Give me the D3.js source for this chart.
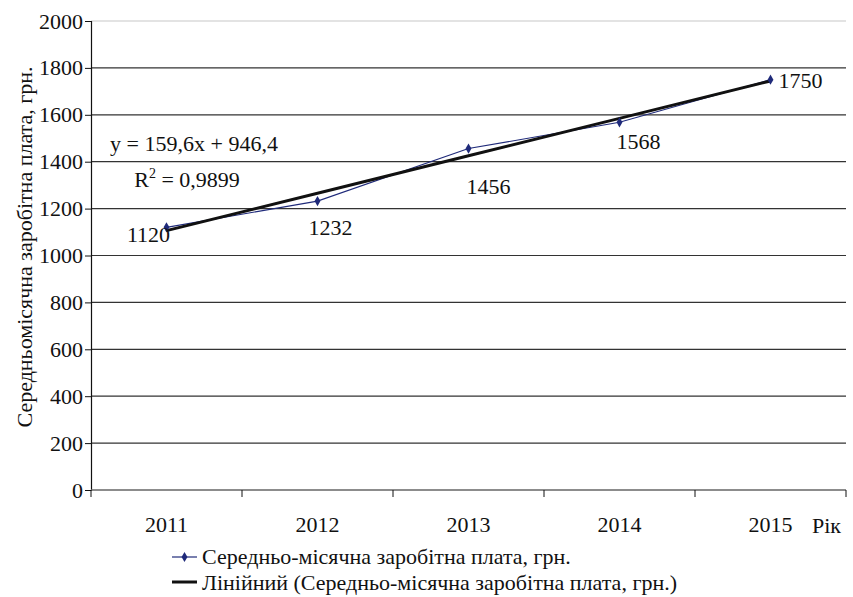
<!doctype html>
<html>
<head>
<meta charset="utf-8">
<title>Середньомісячна заробітна плата</title>
<script src="https://cdn.jsdelivr.net/npm/d3@7/dist/d3.min.js"></script>
<style>
  body { margin: 0; background: #fff; }
  svg text { font-family: 'Liberation Serif', 'Times New Roman', Times, 'DejaVu Serif', serif; fill: #111; }
</style>
</head>
<body>
<div id="chart-area"></div>
<script>
// Data
var years = ["2011", "2012", "2013", "2014", "2015"];
var wages = [1120, 1232, 1456, 1568, 1750];
var yTicks = [0, 200, 400, 600, 800, 1000, 1200, 1400, 1600, 1800, 2000];
var trendSlope = 159.6, trendIntercept = 946.4;
var seriesName = "Середньо-місячна заробітна плата, грн.";
var trendName = "Лінійний (Середньо-місячна заробітна плата, грн.)";

// label offsets relative to each point (dx, dy)
var labelOffsets = [[-18, 15], [13, 34], [20, 45], [19, 27], [30, 8]];

var FONT = "'Liberation Serif', 'Times New Roman', Times, serif";
var FS = "22px";
var W = 853, H = 597;
var margin = { left: 91, right: 7, top: 21, bottom: 107 };
var width = W - margin.left - margin.right,
    height = H - margin.top - margin.bottom;

var svg = d3.select("#chart-area").append("svg").attr("width", W).attr("height", H)
  .style("font-family", FONT);
var g = svg.append("g").attr("transform", "translate(" + margin.left + "," + margin.top + ")");

var x = d3.scaleBand().domain(years).range([0, width]);
var y = d3.scaleLinear().domain([0, 2000]).range([height, 0]);

// Grid
g.selectAll("line.grid").data(yTicks.filter(function(d){ return d > 0; }))
  .enter().append("line").attr("class", "grid")
  .attr("x1", 0).attr("x2", width)
  .attr("y1", function(d){ return y(d); }).attr("y2", function(d){ return y(d); })
  .attr("stroke", function(d){ return d == 2000 ? "#c8c8c8" : "#333"; })
  .attr("stroke-width", 1.2);

// Y axis
var yAxis = g.append("g").call(d3.axisLeft(y).tickValues(yTicks).tickFormat(d3.format("d")).tickSize(6).tickPadding(2));
yAxis.attr("font-family", null);
yAxis.select(".domain").attr("stroke", "#111").attr("stroke-width", 1.2);
yAxis.selectAll(".tick line").attr("stroke", "#111");
yAxis.selectAll("text").attr("font-size", FS).style("font-family", FONT);

// X axis
var xAxis = g.append("g").attr("transform", "translate(0," + height + ")");
xAxis.append("line").attr("x1", 0).attr("x2", width).attr("stroke", "#666").attr("stroke-width", 1.5);
var bounds = d3.range(years.length + 1).map(function(i){ return i * x.step(); });
xAxis.selectAll("line.tk").data(bounds).enter().append("line").attr("class", "tk")
  .attr("x1", function(d){ return d; }).attr("x2", function(d){ return d; })
  .attr("y1", 0).attr("y2", 7).attr("stroke", "#111");
xAxis.selectAll("text.yr").data(years).enter().append("text").attr("class", "yr")
  .attr("x", function(d){ return x(d) + x.bandwidth() / 2; })
  .attr("y", 42).attr("text-anchor", "middle").attr("font-size", FS)
  .text(function(d){ return d; });

function cx(i){ return x(years[i]) + x.bandwidth() / 2; }

// Series line
g.append("path").datum(wages)
  .attr("d", d3.line().x(function(d, i){ return cx(i); }).y(function(d){ return y(d); }))
  .attr("fill", "none").attr("stroke", "#1f2a7a").attr("stroke-width", 1.1);

// Trend line
g.append("path").datum(years)
  .attr("d", d3.line().x(function(d, i){ return cx(i); }).y(function(d, i){ return y(trendSlope * (i + 1) + trendIntercept); }))
  .attr("fill", "none").attr("stroke", "#111").attr("stroke-width", 3);

// Markers
var diamond = d3.symbol().type(d3.symbolDiamond).size(30);
g.selectAll("path.mk").data(wages).enter().append("path").attr("class", "mk")
  .attr("d", diamond)
  .attr("transform", function(d, i){ return "translate(" + cx(i) + "," + y(d) + ")"; })
  .attr("fill", "#1f2a7a");

// Data labels
g.selectAll("text.lbl").data(wages).enter().append("text").attr("class", "lbl")
  .attr("x", function(d, i){ return cx(i) + labelOffsets[i][0]; })
  .attr("y", function(d, i){ return y(d) + labelOffsets[i][1]; })
  .attr("text-anchor", "middle").attr("font-size", FS)
  .text(function(d){ return d; });

// Equation
svg.append("text").attr("x", 194).attr("y", 151).attr("text-anchor", "middle").attr("font-size", FS)
  .text("y = 159,6x + 946,4");
var r2 = svg.append("text").attr("x", 187).attr("y", 187).attr("text-anchor", "middle").attr("font-size", FS);
r2.append("tspan").text("R");
r2.append("tspan").attr("dy", -9).attr("font-size", "14px").text("2");
r2.append("tspan").attr("dy", 9).text(" = 0,9899");

// Axis titles
svg.append("text").attr("transform", "translate(32,247) rotate(-90)")
  .attr("text-anchor", "middle").attr("font-size", FS)
  .text("Середньомісячна заробітна плата, грн.");
svg.append("text").attr("x", 812).attr("y", 533).attr("font-size", FS).text("Рік");

// Legend
var legend = svg.append("g").attr("transform", "translate(172,557)");
legend.append("line").attr("x1", 0).attr("x2", 25).attr("stroke", "#1f2a7a").attr("stroke-width", 1.2);
legend.append("path").attr("d", diamond).attr("transform", "translate(12.5,0)").attr("fill", "#1f2a7a");
legend.append("text").attr("x", 30).attr("y", 7).attr("font-size", FS).text(seriesName);
legend.append("line").attr("x1", 0).attr("x2", 25).attr("y1", 25).attr("y2", 25).attr("stroke", "#111").attr("stroke-width", 3);
legend.append("text").attr("x", 30).attr("y", 33).attr("font-size", FS).text(trendName);
</script>
</body>
</html>
